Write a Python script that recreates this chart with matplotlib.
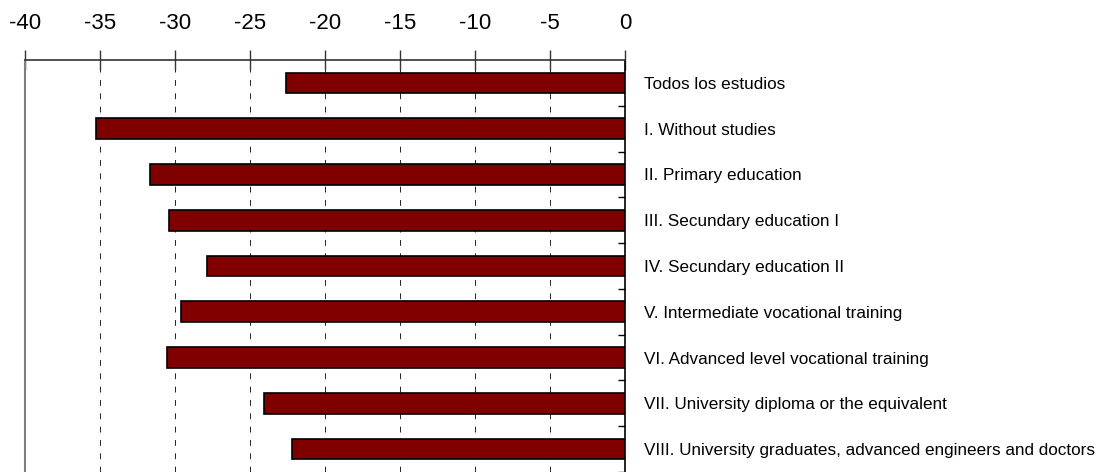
import matplotlib.pyplot as plt
import numpy as np

plt.rcParams['font.family'] = ['Liberation Sans', 'DejaVu Sans']

categories = [
    "Todos los estudios",
    "I. Without studies",
    "II. Primary education",
    "III. Secundary education I",
    "IV. Secundary education II",
    "V. Intermediate vocational training",
    "VI. Advanced level vocational training",
    "VII. University diploma or the equivalent",
    "VIII. University graduates, advanced engineers and doctors",
]
values = [-22.6, -35.3, -31.65, -30.4, -27.9, -29.6, -30.55, -24.1, -22.2]
xticks = [-40, -35, -30, -25, -20, -15, -10, -5, 0]

fig = plt.figure(figsize=(11.17, 4.72), dpi=100)
ax = fig.add_axes([25 / 1117, 0, 600 / 1117, 412 / 472])

y = np.arange(len(categories))
ax.barh(y, values, height=0.45, color='#800000', edgecolor='black',
        linewidth=1.2, zorder=3)

ax.set_xlim(-40, 0)
ax.set_ylim(8.32, -0.5)

# dashed vertical grid
for t in xticks[1:-1]:
    ax.axvline(t, color='black', linewidth=0.6, dashes=(7, 9), zorder=1)

ax.xaxis.tick_top()
ax.set_xticks(xticks)
ax.set_xticklabels([str(t) for t in xticks], fontsize=16)
ax.tick_params(axis='x', direction='inout', length=14, width=1, pad=12,
               color='#333333')

ax.yaxis.tick_right()
ax.set_yticks(y)
ax.set_yticklabels(categories, fontsize=12.3)
ax.tick_params(axis='y', which='major', length=0, pad=14)
ax.set_yticks(np.arange(len(categories)) + 0.5, minor=True)
ax.tick_params(axis='y', which='minor', direction='in', length=5, width=1,
               right=True, left=False)

ax.spines['bottom'].set_visible(False)
ax.spines['left'].set_color('#808080')
ax.spines['left'].set_linewidth(1.5)
ax.spines['top'].set_color('#333333')
ax.spines['top'].set_linewidth(1.2)
ax.spines['right'].set_color('black')
ax.spines['right'].set_linewidth(1.2)

fig.savefig('out.png', dpi=100)
